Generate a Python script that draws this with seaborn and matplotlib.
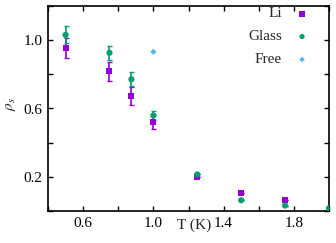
import matplotlib
matplotlib.use("Agg")
import matplotlib.pyplot as plt
import seaborn as sns
import pandas as pd
from matplotlib.ticker import MultipleLocator

sns.set_style("ticks")
plt.rcParams['font.family'] = ['Liberation Serif', 'DejaVu Serif']
plt.rcParams['mathtext.fontset'] = 'stix'

li_T = [0.5, 0.75, 0.875, 1.0, 1.25, 1.5, 1.75]
li_rho = [0.955, 0.818, 0.673, 0.522, 0.198, 0.108, 0.063]
li_err = [0.06, 0.055, 0.055, 0.04, 0.0, 0.0, 0.0]

glass_T = [0.5, 0.75, 0.875, 1.0, 1.25, 1.5, 1.75, 2.0]
glass_rho = [1.031, 0.926, 0.771, 0.559, 0.214, 0.063, 0.032, 0.016]
glass_err = [0.05, 0.04, 0.04, 0.025, 0.0, 0.0, 0.0, 0.0]

free_T = [1.0]
free_rho = [0.932]

series_labels = ["Li", "Glass", "Free"]

c_li = "#9400D3"
c_glass = "#009E73"
c_free = "#56B4E9"

W, H = 336, 243
fig = plt.figure(figsize=(W / 100, H / 100), dpi=100)
ax = fig.add_axes([48 / W, 1 - 211 / H, (329 - 48) / W, (211 - 6) / H])

df_li = pd.DataFrame({"T": li_T, "rho": li_rho, "err": li_err})
df_gl = pd.DataFrame({"T": glass_T, "rho": glass_rho, "err": glass_err})
df_fr = pd.DataFrame({"T": free_T, "rho": free_rho})

ax.errorbar(df_li["T"], df_li["rho"], yerr=df_li["err"], fmt="none", ecolor=c_li,
            elinewidth=1.2, capsize=1.8, capthick=1.0, zorder=2)
ax.errorbar(df_gl["T"], df_gl["rho"], yerr=df_gl["err"], fmt="none", ecolor=c_glass,
            elinewidth=1.2, capsize=1.8, capthick=1.0, zorder=3)

sns.scatterplot(data=df_li, x="T", y="rho", ax=ax, color=c_li, marker="s", s=19,
                edgecolor="none", zorder=4, legend=False)
sns.scatterplot(data=df_gl, x="T", y="rho", ax=ax, color=c_glass, marker="o", s=20,
                edgecolor="none", zorder=5, legend=False)
sns.scatterplot(data=df_fr, x="T", y="rho", ax=ax, color=c_free, marker="D", s=10,
                edgecolor="none", zorder=5, legend=False)

ax.set_xlim(0.4, 2.0)
ax.set_ylim(0.0, 1.2)
ax.xaxis.set_minor_locator(MultipleLocator(0.2))
ax.yaxis.set_minor_locator(MultipleLocator(0.2))
ax.set_xticks([0.6, 1.0, 1.4, 1.8])
ax.set_yticks([0.2, 0.6, 1.0])
ax.set_xticklabels(["0.6", "1.0", "1.4", "1.8"])
ax.set_yticklabels(["0.2", "0.6", "1.0"])
ax.tick_params(which="both", direction="in", top=True, right=True, labelsize=11,
               width=1.0, colors="black", length=3.5)
ax.tick_params(axis="y", pad=4)
ax.tick_params(axis="x", pad=4)
for sp in ax.spines.values():
    sp.set_linewidth(1.2)
    sp.set_color("black")

ax.set_xlabel("T (K)", fontsize=11)
ax.set_ylabel(r"$\rho_s$", fontsize=11)
ax.xaxis.set_label_coords(0.52, -0.035)
ax.yaxis.set_label_coords(-0.105, 0.52)

# legend: right-aligned text, marker to the right
key_x = 0.904
text_x = 0.833
rows_y = [0.961, 0.851, 0.739]
styles = [(c_li, "s", 14), (c_glass, "o", 14), (c_free, "D", 8)]
for lab, y, (c, m, s) in zip(series_labels, rows_y, styles):
    ax.scatter([key_x], [y], transform=ax.transAxes, color=c, marker=m, s=s,
               edgecolor="none", clip_on=False, zorder=6)
    ax.text(text_x, y, lab, transform=ax.transAxes, ha="right", va="center",
            fontsize=11)

fig.savefig("out.png", dpi=100)
